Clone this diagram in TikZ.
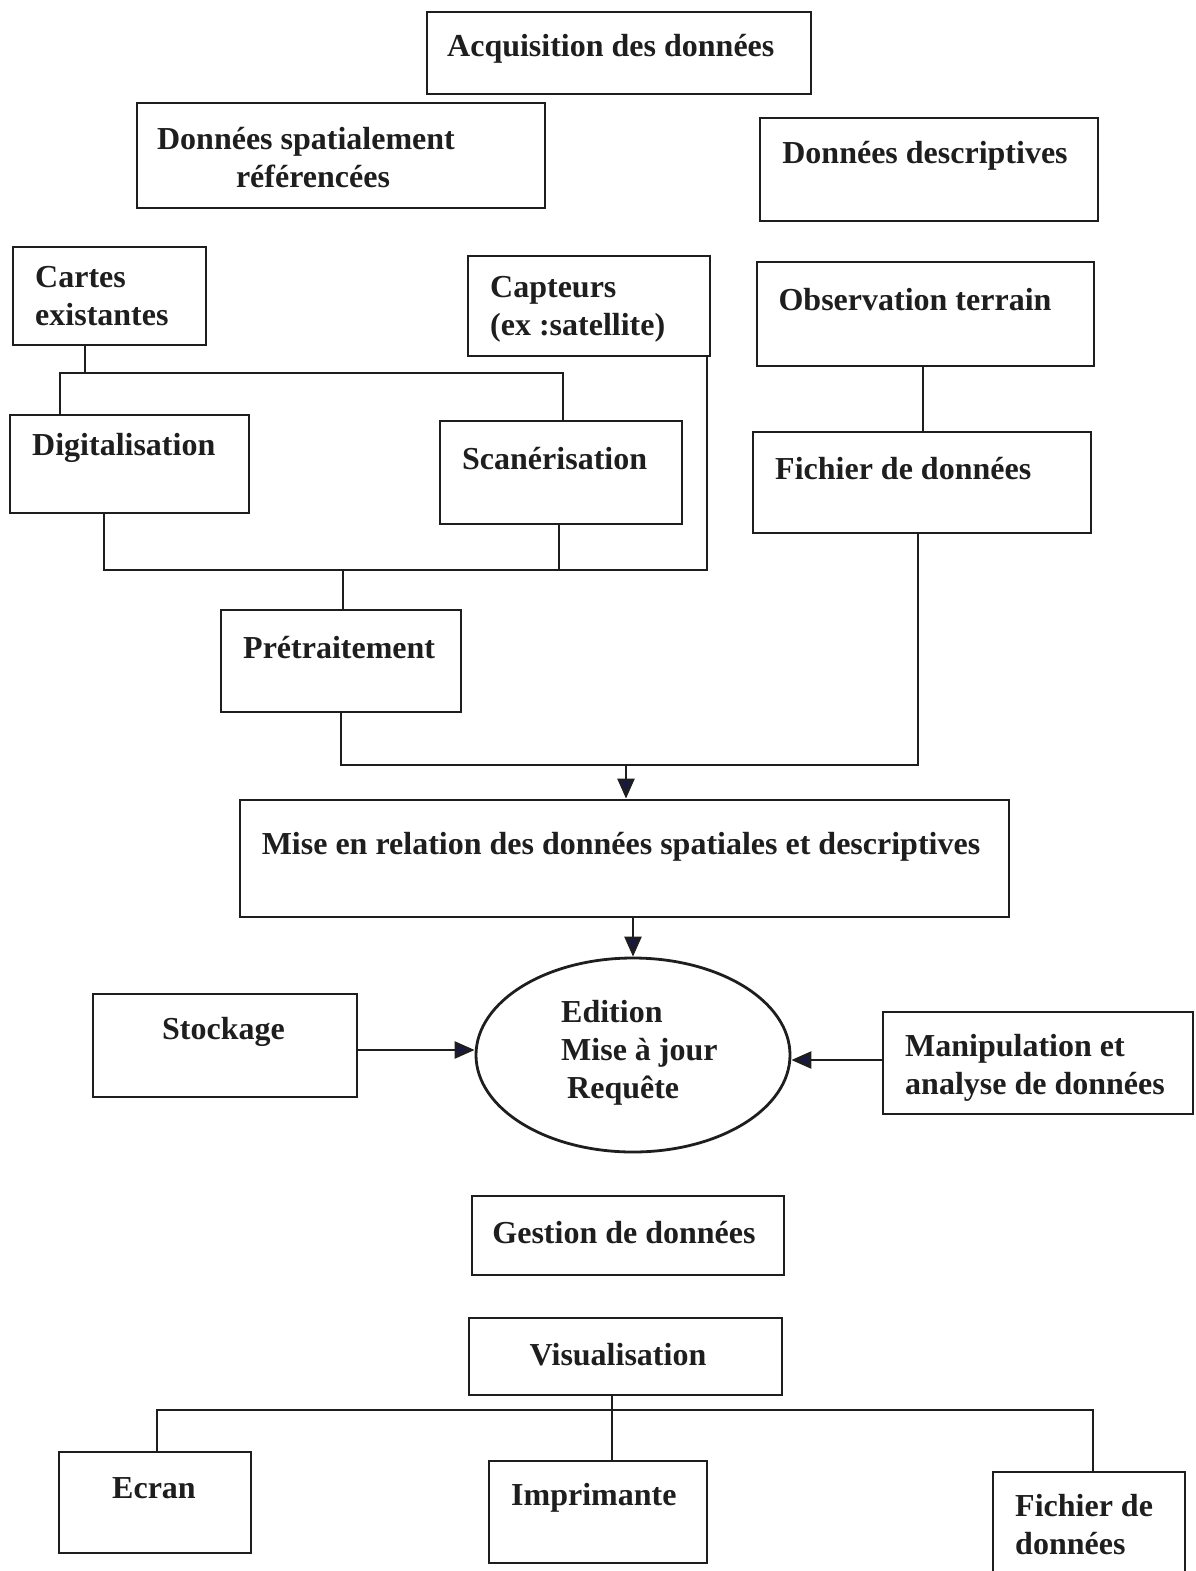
\documentclass[tikz,border=0pt]{standalone}
\usepackage{fontspec}
\setmainfont{Liberation Serif}
\usetikzlibrary{arrows.meta,shapes.geometric}
\definecolor{ink}{HTML}{1E1E1E}
\begin{document}
\begin{tikzpicture}[x=1pt,y=-1pt,
  box/.style={draw=ink, line width=2.8pt, inner sep=0pt},
  txt/.style={text=ink, font=\bfseries\fontsize{32}{38}\selectfont, inner sep=0pt, align=left},
  wire/.style={draw=ink, line width=2.6pt},
  arr/.style={wire, -{Triangle[length=20pt,width=17pt,fill=ink!85!blue]}}]
\useasboundingbox (0,0) rectangle (1196,1571);

% boxes
\node[box, minimum width=384pt, minimum height=82pt]  (acq)   at (619,53) {};
\node[box, minimum width=408pt, minimum height=105pt] (spat)  at (341,155.5) {};
\node[box, minimum width=338pt, minimum height=103pt] (desc)  at (929,169.5) {};
\node[box, minimum width=193pt, minimum height=98pt]  (cart)  at (109.5,296) {};
\node[box, minimum width=242pt, minimum height=100pt] (capt)  at (589,306) {};
\node[box, minimum width=337pt, minimum height=104pt] (obs)   at (925.5,314) {};
\node[box, minimum width=239pt, minimum height=98pt]  (digit) at (129.5,464) {};
\node[box, minimum width=242pt, minimum height=103pt] (scan)  at (561,472.5) {};
\node[box, minimum width=338pt, minimum height=101pt] (fich)  at (922,482.5) {};
\node[box, minimum width=240pt, minimum height=102pt] (pret)  at (341,661) {};
\node[box, minimum width=769pt, minimum height=117pt] (mise)  at (624.5,858.5) {};
\node[box, ellipse, minimum width=314pt, minimum height=194pt] (edit) at (633,1055) {};
\node[box, minimum width=264pt, minimum height=103pt] (stock) at (225,1045.5) {};
\node[box, minimum width=310pt, minimum height=102pt] (manip) at (1038,1063) {};
\node[box, minimum width=312pt, minimum height=79pt]  (gest)  at (628,1235.5) {};
\node[box, minimum width=313pt, minimum height=77pt]  (visu)  at (625.5,1356.5) {};
\node[box, minimum width=192pt, minimum height=101pt] (ecran) at (155,1502.5) {};
\node[box, minimum width=218pt, minimum height=102pt] (impr)  at (598,1512) {};
\node[box, minimum width=192pt, minimum height=104pt] (fich2) at (1089,1524) {};

% labels
\node[txt, anchor=west] (acq-t)   at (447,49)  {Acquisition des données};
\node[txt, align=center] (spat-t) at (306,158) {Données spatialement\\\hspace*{14pt}référencées};
\node[txt] (desc-t)  at (925,156)  {Données descriptives};
\node[txt, anchor=west] (cart-t)  at (35,296)  {Cartes\\existantes};
\node[txt, anchor=west] (capt-t)  at (490,309) {Capteurs\\(ex :satellite)};
\node[txt] (obs-t)   at (915,300)  {Observation terrain};
\node[txt, anchor=west] (digit-t) at (32,448)  {Digitalisation};
\node[txt, anchor=west] (scan-t)  at (462,459) {Scanérisation};
\node[txt, anchor=west] (fich-t)  at (775,469) {Fichier de données};
\node[txt, anchor=west] (pret-t)  at (243,648) {Prétraitement};
\node[txt] (mise-t)  at (621,847)  {Mise en relation des données spatiales et descriptives};
\node[txt, anchor=west] (edit-t)  at (561,1053) {Edition\\Mise à jour\\\hspace*{6pt}Requête};
\node[txt, anchor=west] (stock-t) at (162,1032) {Stockage};
\node[txt, anchor=west] (manip-t) at (905,1068) {Manipulation et\\analyse de données};
\node[txt] (gest-t)  at (624,1233) {Gestion de données};
\node[txt] (visu-t)  at (618,1355) {Visualisation};
\node[txt, anchor=west] (ecran-t) at (112,1488) {Ecran};
\node[txt, anchor=west] (impr-t)  at (511,1498) {Imprimante};
\node[txt, anchor=west] (fich2-t) at (1015,1525) {Fichier de\\données};

% junction points of the connector buses
\coordinate (ca) at (85,373);
\coordinate (aL) at (60,373);
\coordinate (aR) at (563,373);
\coordinate (bL) at (104,570);
\coordinate (bR) at (707,570);
\coordinate (bS) at (559,570);
\coordinate (bP) at (343,570);
\coordinate (cR) at (918,765);
\coordinate (cL) at (341,765);
\coordinate (cA) at (626,765);
\coordinate (dM) at (612,1410);
\coordinate (dL) at (157,1410);
\coordinate (dR) at (1093,1410);

% maps feed digitising and scanning
\draw[wire] (cart.south -| ca) -- (ca);
\draw[wire] (digit.north -| aL) -- (aL) -- (aR) -- (scan.north -| aR);
% digitising, scanning and sensors feed preprocessing
\draw[wire] (digit.south -| bL) -- (bL) -- (bR) -- (capt.south east -| bR);
\draw[wire] (scan.south -| bS) -- (bS);
\draw[wire] (bP) -- (pret.north -| bP);
% field observation to data file
\draw[wire] (obs.south -| 923,0) -- (fich.north -| 923,0);
% spatial and descriptive branches join
\draw[wire] (pret.south -| cL) -- (cL) -- (cR) -- (fich.south -| cR);
\draw[arr] (cA) -- (mise.north -| cA);
\draw[arr] (mise.south -| edit.north) -- (edit.north);
\draw[arr] (stock.east |- 0,1050) -- (edit.west |- 0,1050);
\draw[arr] (manip.west |- 0,1060) -- (edit.east |- 0,1060);
% visualisation outputs
\draw[wire] (visu.south -| dM) -- (dM);
\draw[wire] (ecran.north -| dL) -- (dL) -- (dR) -- (fich2.north -| dR);
\draw[wire] (dM) -- (impr.north -| dM);
\end{tikzpicture}
\end{document}
